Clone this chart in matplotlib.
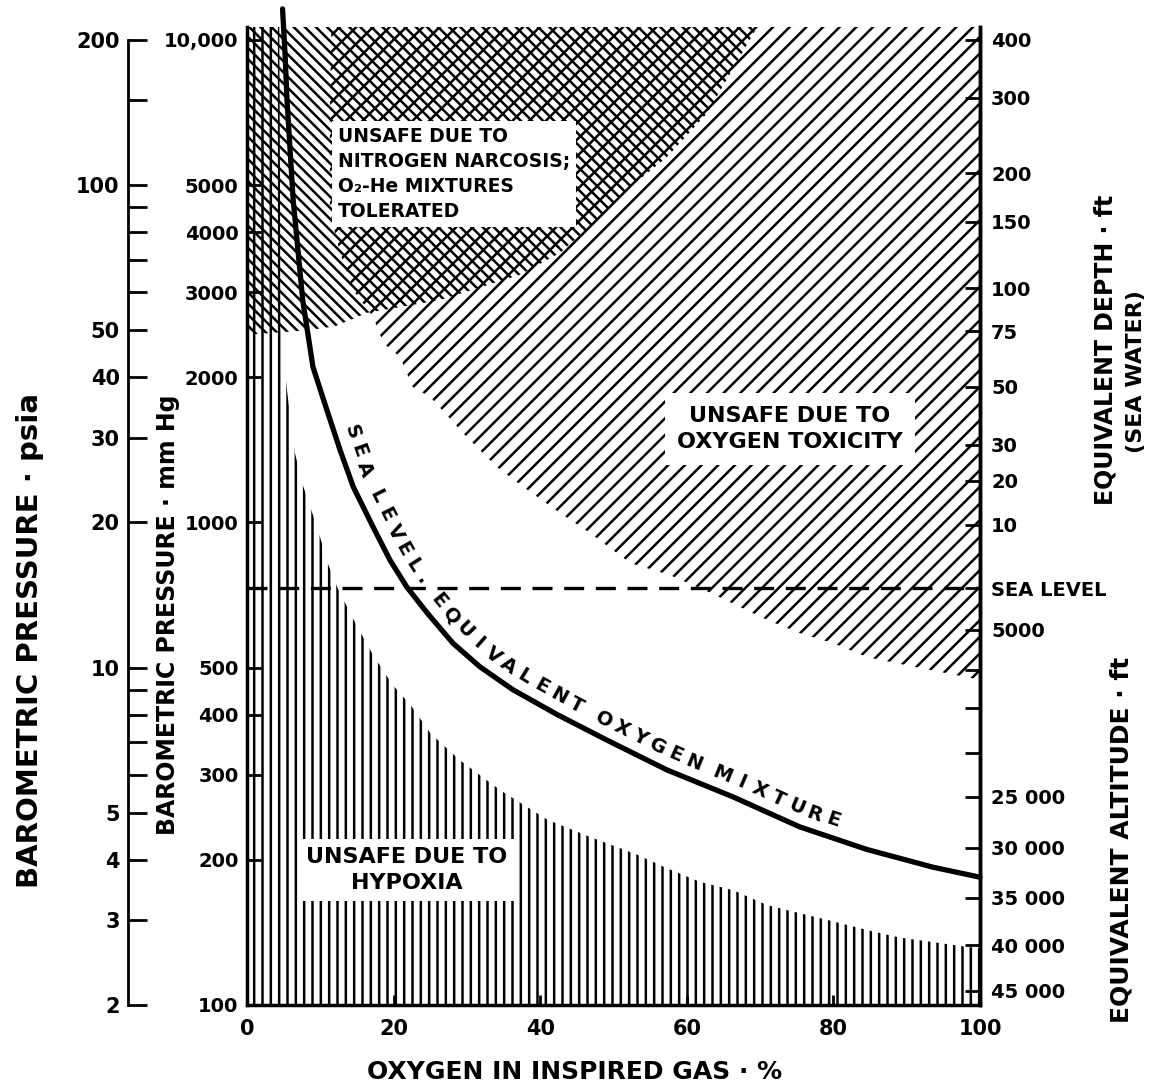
import numpy as np
import matplotlib
matplotlib.use("Agg")
import matplotlib.pyplot as plt
from matplotlib.ticker import NullLocator, NullFormatter

# ------------------------------------------------------------------ data
o2_range = [0, 100]                 # oxygen in inspired gas, %
p_range = [100, 10640]              # barometric pressure, mm Hg (log scale)
psia_per_mmhg = 1 / 50.0            # psia scale as drawn on the chart

# sea-level equivalent oxygen mixture (O2 %, mm Hg)
curve_o2 = [4.85, 5.2, 5.46, 6.3, 7.6, 9.0, 10.9, 12.7, 14.5, 17.2, 19.5, 21.8,
            24.6, 28.1, 31.8, 36.3, 42.3, 49.1, 57.3, 66.3, 75.4, 84.6, 93.6, 100]
curve_p = [11600, 9300, 7500, 4660, 2890, 2100, 1710, 1413, 1185, 979, 836, 735,
           649, 562, 502, 450, 400, 354, 307, 270, 234, 210, 193, 184]

# upper limit of the hypoxia zone
hypoxia_o2 = [0, 4.4, 4.6, 5.5, 6.5, 7.6, 8.9, 10, 11, 12.3, 14.7, 17.2, 19.9, 22.5,
              25, 29, 34.5, 41, 46.8, 53.2, 57.3, 61.8, 66.3, 71, 75.4, 80, 84.6,
              89, 93.6, 98.2, 100]
hypoxia_p = [10640, 10640, 2500, 1855, 1400, 1197, 1047, 929, 824, 735, 622, 531,
             460, 415, 366, 322, 279, 242, 223, 205, 192, 180, 173, 161, 155, 149,
             143, 138, 135, 132, 131]

# lower limit of the oxygen-toxicity zone
toxicity_o2 = [11.5, 11.3, 11.3, 12.7, 14.5, 17.2, 18.6, 20.9, 22.6, 25, 30, 34.1,
               37.7, 42.7, 46.8, 52.3, 57.7, 63.2, 71, 75.4, 80, 84.6, 91.4, 98.2, 100]
toxicity_p = [10640, 7000, 4400, 3620, 3030, 2670, 2355, 2203, 1910, 1820, 1503,
              1303, 1185, 1047, 951, 824, 778, 715, 628, 590, 562, 526, 501, 478, 472]

# lower / right limit of the nitrogen-narcosis zone
narcosis_o2 = [0, 8, 12, 16.4, 26.3, 37.2, 42.7, 48.2, 52.3, 57.3, 62.8, 69.6]
narcosis_p = [2450, 2500, 2550, 2720, 2890, 3260, 3620, 4300, 4960, 5720, 7060, 10640]

sea_level_p = 730

x_ticks = [0, 20, 40, 60, 80, 100]
x_ticklabels = ["0", "20", "40", "60", "80", "100"]
mmhg_ticks = [100, 200, 300, 400, 500, 1000, 2000, 3000, 4000, 5000, 10000]
mmhg_ticklabels = ["100", "200", "300", "400", "500", "1000", "2000", "3000",
                   "4000", "5000", "10,000"]
psia_ticks = [2, 3, 4, 5, 10, 20, 30, 40, 50, 100, 200]
psia_ticklabels = ["2", "3", "4", "5", "10", "20", "30", "40", "50", "100", "200"]
psia_minor = [6, 7, 8, 9, 60, 70, 80, 90, 150]
right_tick_p = [10000, 7600, 5300, 4200, 3060, 2490, 1910, 1450, 1220, 990, 730,
                600, 494, 413, 333, 270, 212, 167, 133, 107]
right_ticklabels = ["400", "300", "200", "150", "100", "75", "50", "30", "20", "10",
                    "SEA LEVEL", "5000", "", "", "", "25 000", "30 000", "35 000",
                    "40 000", "45 000"]

# ------------------------------------------------------------------ figure
W, H = 1158, 1086
plt.rcParams["hatch.linewidth"] = 1.8
plt.rcParams["font.family"] = ["DejaVu Sans"]
plt.rcParams["font.weight"] = "bold"

fig = plt.figure(figsize=(W / 100, H / 100), dpi=100)


def fx(px):
    return px / W


def fy(py):
    return 1 - py / H


ax = fig.add_axes([fx(247), fy(1005), fx(980) - fx(247), fy(27) - fy(1005)])
ax.set_xlim(*o2_range)
ax.set_yscale("log")
ax.set_ylim(*p_range)
ax.set_facecolor("white")

# hatched zones
top = p_range[1]
bottom = p_range[0]
ax.fill(hypoxia_o2 + [o2_range[1], o2_range[0]], hypoxia_p + [bottom, bottom],
        facecolor="none", edgecolor="black", hatch="||", linewidth=0, zorder=1)
ax.fill(toxicity_o2 + [o2_range[1]], toxicity_p + [top],
        facecolor="none", edgecolor="black", hatch="//", linewidth=0, zorder=1)
ax.fill(narcosis_o2 + [o2_range[0]], narcosis_p + [top],
        facecolor="none", edgecolor="black", hatch="\\\\\\", linewidth=0, zorder=1)

# sea level dashed line and curve
ax.axhline(sea_level_p, color="black", lw=2.4, dashes=(6, 3.5), zorder=3)
ax.plot(curve_o2, curve_p, color="black", lw=3.8, zorder=4, clip_on=False,
        solid_capstyle="round")

# spines / ticks of main axes
for s in ["left", "bottom", "right"]:
    ax.spines[s].set_linewidth(2.5)
ax.spines["top"].set_visible(False)
ax.set_xticks(x_ticks)
ax.set_xticklabels(x_ticklabels)
ax.set_yticks(mmhg_ticks)
ax.set_yticklabels(mmhg_ticklabels)
ax.yaxis.set_minor_locator(NullLocator())
ax.yaxis.set_minor_formatter(NullFormatter())
ax.tick_params(axis="y", direction="in", length=10, width=2, labelsize=14, pad=6,
               right=False)
ax.tick_params(axis="x", direction="in", length=7, width=2, labelsize=15, pad=10,
               top=False)

# right axis (equivalent depth / altitude)
axr = ax.twinx()
axr.set_yscale("log")
axr.set_ylim(*p_range)
axr.set_yticks(right_tick_p)
axr.set_yticklabels(right_ticklabels)
axr.yaxis.set_minor_locator(NullLocator())
axr.yaxis.set_minor_formatter(NullFormatter())
axr.tick_params(axis="y", direction="in", length=11, width=2, labelsize=14, pad=8)
for s in ["left", "top", "bottom"]:
    axr.spines[s].set_visible(False)
axr.spines["right"].set_linewidth(2.5)
for lab in axr.get_yticklabels():
    lab.set_horizontalalignment("left")

# psia axis
axp = fig.add_axes([fx(128), fy(1005), fx(170) - fx(128), fy(27) - fy(1005)])
axp.set_yscale("log")
axp.set_ylim(p_range[0] * psia_per_mmhg, p_range[1] * psia_per_mmhg)
axp.patch.set_visible(False)
for s in ["top", "right", "bottom"]:
    axp.spines[s].set_visible(False)
axp.spines["left"].set_linewidth(2)
axp.spines["left"].set_bounds(psia_ticks[0], psia_ticks[-1])
axp.set_xticks([])
axp.set_yticks(psia_ticks)
axp.set_yticklabels(psia_ticklabels)
axp.set_yticks(psia_minor, minor=True)
axp.yaxis.set_minor_formatter(NullFormatter())
axp.tick_params(axis="y", which="both", direction="in", length=14, width=2,
                labelsize=15, pad=6)

# axis titles
fig.text(fx(30), fy(640), "BAROMETRIC PRESSURE · psia", rotation=90,
         ha="center", va="center", fontsize=21)
fig.text(fx(168), fy(615), "BAROMETRIC PRESSURE · mm Hg", rotation=90,
         ha="center", va="center", fontsize=17)
fig.text(fx(1105), fy(350), "EQUIVALENT DEPTH · ft", rotation=90,
         ha="center", va="center", fontsize=17)
fig.text(fx(1136), fy(372), "(SEA WATER)", rotation=90,
         ha="center", va="center", fontsize=16)
fig.text(fx(1122), fy(840), "EQUIVALENT ALTITUDE · ft", rotation=90,
         ha="center", va="center", fontsize=18)
fig.text(fx(575), fy(1072), "OXYGEN IN INSPIRED GAS · %",
         ha="center", va="center", fontsize=18)

# zone labels
fig.text(fx(338), fy(174), "UNSAFE DUE TO\nNITROGEN NARCOSIS;\nO\u2082-He MIXTURES\nTOLERATED",
         ha="left", va="center", fontsize=13.5, linespacing=1.4,
         bbox=dict(facecolor="white", edgecolor="none", pad=4), zorder=6)
fig.text(fx(790), fy(429), "UNSAFE DUE TO\nOXYGEN TOXICITY",
         ha="center", va="center", fontsize=16, linespacing=1.4,
         bbox=dict(facecolor="white", edgecolor="none", pad=9), zorder=6)
fig.text(fx(407), fy(870), "UNSAFE DUE TO\nHYPOXIA",
         ha="center", va="center", fontsize=16, linespacing=1.35,
         bbox=dict(facecolor="white", edgecolor="none", pad=6), zorder=6)


# label that follows the curve
def label_along(xs, ys, text, start_img, end_img, offset, **kw):
    pts = ax.transData.transform(np.column_stack([xs, ys]))
    seg = np.diff(pts, axis=0)
    seglen = np.hypot(seg[:, 0], seg[:, 1])
    cum = np.concatenate([[0.0], np.cumsum(seglen)])

    def project(img_pt):
        p = np.array([img_pt[0], H - img_pt[1]], float)
        best_d, best_s = np.inf, 0.0
        for i in range(len(seg)):
            t = np.clip(np.dot(p - pts[i], seg[i]) / seglen[i] ** 2, 0, 1)
            q = pts[i] + t * seg[i]
            d = np.hypot(*(p - q))
            if d < best_d:
                best_d, best_s = d, cum[i] + t * seglen[i]
        return best_s

    def at(s):
        return np.array([np.interp(s, cum, pts[:, 0]), np.interp(s, cum, pts[:, 1])])

    s0, s1 = project(start_img), project(end_img)
    w = np.array([0.55 if c == " " else 0.7 if c == "." else 1.0 for c in text])
    centers = np.cumsum(w) - w / 2
    centers = (centers - centers[0]) / (centers[-1] - centers[0])
    for c, f in zip(text, centers):
        if c == " ":
            continue
        s = s0 + f * (s1 - s0)
        p = at(s)
        tv = at(s + 18) - at(s - 18)
        tv = tv / np.hypot(*tv)
        nv = np.array([-tv[1], tv[0]])
        q = p + offset * nv
        ang = np.degrees(np.arctan2(tv[1], tv[0]))
        fig.text(q[0] / W, q[1] / H, c, rotation=ang, rotation_mode="anchor",
                 ha="center", va="center", zorder=6, **kw)


label_along(curve_o2, curve_p, "SEA LEVEL. EQUIVALENT OXYGEN MIXTURE",
            (348, 433), (835, 815), 17, fontsize=14)

fig.savefig("out.png", dpi=100, facecolor="white")
